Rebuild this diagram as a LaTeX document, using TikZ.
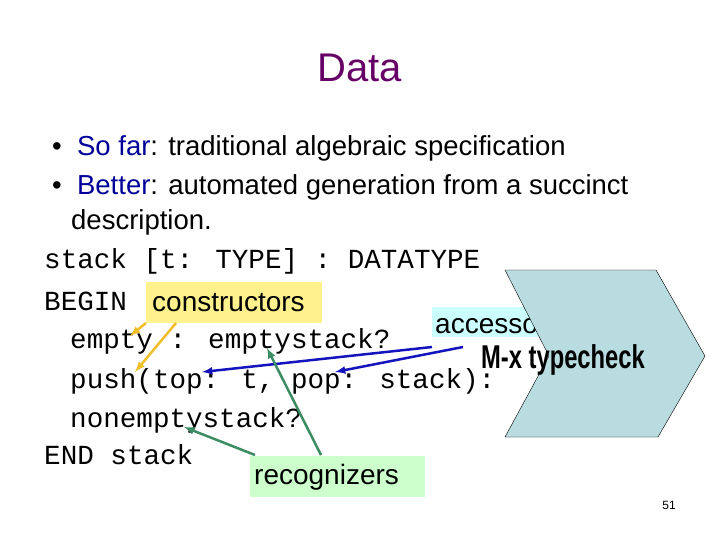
\documentclass[tikz,border=0pt]{standalone}
\usepackage{fontspec}
\setmainfont{Liberation Sans}
\newfontfamily\cour{Liberation Mono}
\definecolor{ttl}{RGB}{102,0,102}
\definecolor{navy}{RGB}{0,0,153}
\definecolor{cy}{RGB}{255,242,140}
\definecolor{ca}{RGB}{204,255,255}
\definecolor{cr}{RGB}{204,255,204}
\definecolor{chev}{RGB}{184,220,224}
\definecolor{ya}{RGB}{240,190,40}
\definecolor{ba}{RGB}{20,20,190}
\definecolor{ga}{RGB}{60,140,100}
\begin{document}
\begin{tikzpicture}[x=1pt,y=-1pt,
  tt/.style={anchor=west,inner sep=0,font=\cour\fontsize{27.6}{27.6}\selectfont},
  bl/.style={anchor=west,inner sep=0,font=\fontsize{27.5}{27.5}\selectfont},
  lab/.style={inner sep=0,font=\fontsize{28}{28}\selectfont},
  yarr/.style={-latex,line width=2.5pt,draw=ya},
  barr/.style={-latex,line width=2.5pt,draw=ba},
  garr/.style={-latex,line width=2.5pt,draw=ga}]
\useasboundingbox (0,0) rectangle (720,540);
\fill[white] (0,0) rectangle (720,540);
\node[inner sep=0,font=\fontsize{40}{40}\selectfont,text=ttl] (title) at (360,68) {Data};
\node[bl] (b1) at (52,148) {\textbullet\ \ \textcolor{navy}{So far}: traditional algebraic specification};
\node[bl] (b2) at (52,187) {\textbullet\ \ \textcolor{navy}{Better}: automated generation from a succinct};
\node[bl] (b3) at (71,222) {description.};
\node[tt] (l1) at (44,261) {stack [t: TYPE] : DATATYPE};
\node[tt] (l2) at (44,301) {BEGIN};
\node[tt] (l3) at (70,341) {empty : emptystack?};
\node[tt] (l4) at (70,381) {push(top: t, pop: stack):};
\node[tt] (l5) at (70,420) {nonemptystack?};
\node[tt] (l6) at (44,455) {END stack};
\fill[cy] (146,282) rectangle (322,323);
\node[lab,anchor=west] (cons) at (152,303) {constructors};
\fill[ca] (432,307) rectangle (549,337);
\node[lab,anchor=west] (acc) at (435,326) {accessors};
\fill[cr] (250,456) rectangle (425,497);
\node[lab,anchor=west] (rec) at (254,477) {recognizers};
\draw[fill=chev] (505,270) -- (656,270) -- (705,356) -- (658,437) -- (505,437) -- (549,356) -- cycle;
\node[inner sep=0,font=\bfseries\fontsize{33}{33}\selectfont,xscale=0.72] (mx) at (563,360) {M-x typecheck};
\coordinate (y1s) at (146,323); \coordinate (y1e) at (130,336);
\coordinate (y2s) at (176,323); \coordinate (y2e) at (135,372);
\draw[yarr] (y1s) -- (y1e);
\draw[yarr] (y2s) -- (y2e);
\coordinate (a1s) at (432,347); \coordinate (a1e) at (202,372);
\coordinate (a2s) at (463,347); \coordinate (a2e) at (335,372);
\draw[barr] (a1s) -- (a1e);
\draw[barr] (a2s) -- (a2e);
\coordinate (g1s) at (321,455); \coordinate (g1e) at (267,348);
\coordinate (g2s) at (255,455); \coordinate (g2e) at (184,427);
\draw[garr] (g1s) -- (g1e);
\draw[garr] (g2s) -- (g2e);
\node[inner sep=0,font=\fontsize{12}{12}\selectfont] (pg) at (669,505) {51};
\end{tikzpicture}
\end{document}
